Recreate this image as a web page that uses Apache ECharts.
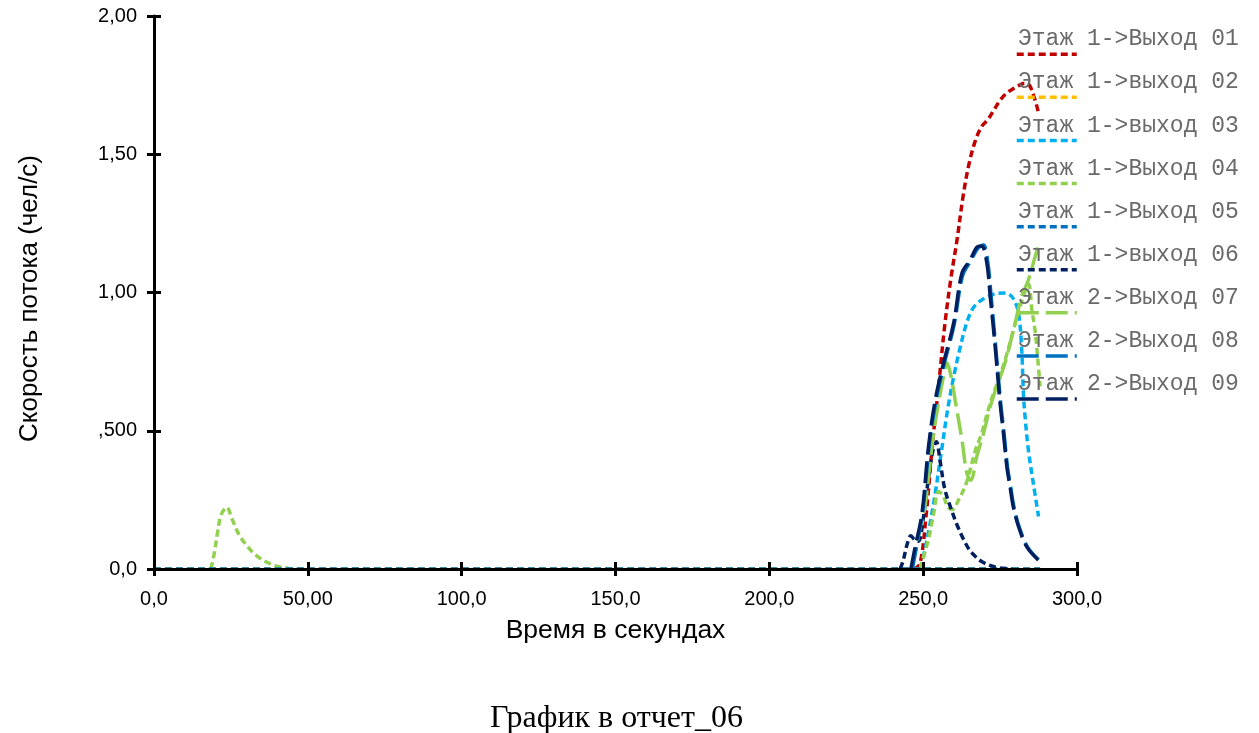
<!DOCTYPE html>
<html>
<head>
<meta charset="utf-8">
<script src="https://cdn.jsdelivr.net/npm/echarts@6/dist/echarts.min.js"></script>
<style>
html,body{margin:0;padding:0;background:#ffffff;}
#chart{width:1259px;height:733px;}
</style>
</head>
<body>
<div id="chart"></div>
<script>
// ---------- data ----------
const seriesNames = [
  'Этаж 1->Выход 01', 'Этаж 1->выход 02', 'Этаж 1->выход 03',
  'Этаж 1->Выход 04', 'Этаж 1->Выход 05', 'Этаж 1->выход 06',
  'Этаж 2->Выход 07', 'Этаж 2->Выход 08', 'Этаж 2->Выход 09'
];
const xTickLabels = ['0,0', '50,00', '100,0', '150,0', '200,0', '250,0', '300,0'];
const yTickLabels = ['0,0', ',500', '1,00', '1,50', '2,00'];

// [time (s), flow rate (people/s)]
const exit01 = [[247,0],[249,0.02],[251,0.2],[253,0.45],[255,0.66],[257,0.88],[259,1.05],[261,1.19],[263,1.35],[265,1.47],[267,1.55],[269,1.6],[271,1.625],[273,1.66],[275,1.695],[277,1.72],[279,1.735],[281,1.748],[283,1.757],[284.5,1.75],[286,1.71],[287.5,1.65]];
const exit02 = [[0,0],[288,0]];
const exit03 = [[249,0],[250,0.04],[252,0.15],[254,0.28],[256,0.43],[258,0.58],[260,0.7],[262,0.8],[264,0.885],[266,0.94],[268,0.965],[270,0.98],[272,0.99],[274,0.997],[276,0.998],[278,0.993],[279.5,0.975],[281,0.925],[282,0.8],[282.6,0.63],[283.2,0.54],[284.2,0.43],[285.8,0.31],[287.5,0.19]];
const exit04 = [[18.5,0],[19.6,0.057],[20.7,0.135],[21.8,0.195],[23.6,0.223],[25.5,0.177],[27.7,0.123],[30.4,0.081],[33.1,0.05],[36.4,0.026],[39.6,0.011],[44,0.002],[46,0],['-','-'],[249,0],[250.5,0.06],[251.7,0.105],[253.4,0.2],[255,0.28],[256.5,0.265],[258,0.225],[259.5,0.215],[261.5,0.25],[264,0.31],[267,0.43],[269,0.49],[271,0.57],[273,0.64],[275,0.7],[277,0.77],[279,0.85],[281,0.93],[283,1.0],[284.3,1.03],[285.3,0.94],[286.4,0.86],[287.4,0.74],[288,0.66]];
const exit05 = [[0,0],[288,0]];
const exit06 = [[242.5,0],[243.5,0.03],[244.8,0.09],[246,0.12],[247.3,0.105],[248.5,0.1],[250,0.18],[251.5,0.31],[253,0.42],[254.3,0.46],[255.5,0.39],[257,0.29],[259,0.22],[261,0.16],[263,0.11],[265,0.07],[267,0.045],[269,0.027],[272,0.012],[275,0.004],[279,0]];
const exit07 = [[246,0],[247.5,0.07],[249,0.15],[250.5,0.22],[252,0.36],[253.5,0.5],[255,0.6],[256.5,0.69],[257.8,0.745],[259,0.7],[260.4,0.61],[262.6,0.467],[264.2,0.346],[265.5,0.32],[267.4,0.406],[269.6,0.49],[271.8,0.587],[273.9,0.66],[276.6,0.745],[279.9,0.89],[282,0.985],[284.2,1.045],[286.4,1.13],[287.4,1.17]];
const exit08 = [[246.5,0],[248,0.09],[250,0.22],[252,0.45],[254.2,0.61],[256.8,0.74],[260,0.88],[262.8,1.06],[265.5,1.115],[267.8,1.16],[269.6,1.172],[271,1.11],[272.1,0.985],[273.6,0.8],[275.2,0.6],[276.3,0.49],[277.4,0.37],[278.4,0.3],[279.5,0.225],[281.2,0.153],[283.9,0.08],[287.5,0.033]];
const exit09 = [[246,0],[247.4,0.08],[249.6,0.2],[251.7,0.44],[253.9,0.61],[256.6,0.744],[259.9,0.889],[262.6,1.07],[265.3,1.118],[267.4,1.163],[269,1.168],[270.7,1.106],[271.8,0.985],[273.4,0.804],[275,0.6],[276.1,0.49],[277.2,0.37],[278.2,0.3],[279.3,0.225],[281,0.153],[283.7,0.08],[287.4,0.033]];

const seriesData = [exit01, exit02, exit03, exit04, exit05, exit06, exit07, exit08, exit09];

// ---------- styles ----------
const seriesColors = ['#c00000', '#ffc000', '#00b0f0', '#92d050', '#0070c0', '#002060', '#92d050', '#0070c0', '#002060'];
const shortDash = [7, 4];
const longDash = [22, 7];
const seriesDash = [shortDash, shortDash, shortDash, shortDash, shortDash, shortDash, longDash, longDash, longDash];

const chart = echarts.init(document.getElementById('chart'), null, {renderer: 'canvas'});

const series = seriesNames.map((name, i) => ({
  name: name,
  type: 'line',
  data: seriesData[i],
  smooth: 0.35,
  symbol: 'none',
  connectNulls: false,
  z: 2,
  lineStyle: {color: seriesColors[i], width: 3.5, type: seriesDash[i]},
  itemStyle: {color: seriesColors[i]}
}));

// legend: text above, line sample below, one pair per series
const legendPitch = 43.1;
const legends = [];
seriesNames.forEach((name, i) => {
  legends.push({
    data: [name], orient: 'vertical', padding: 0,
    left: 1013, top: 27.8 + i * legendPitch,
    itemWidth: 0, itemHeight: 0, textGap: 0, icon: 'rect',
    selectedMode: false,
    textStyle: {fontFamily: 'Liberation Mono, Courier New, monospace', fontSize: 23, lineHeight: 23, color: '#6a6a6a'}
  });
  legends.push({
    data: [name], orient: 'vertical', padding: 0,
    left: 1015, top: 52.5 + i * legendPitch,
    itemWidth: 60, itemHeight: 1, textGap: 0,
    selectedMode: false,
    formatter: function () { return ''; },
    itemStyle: {opacity: 0},
    lineStyle: {width: 3.5},
    textStyle: {fontSize: 1, lineHeight: 1}
  });
});

const axisFont = 'Liberation Sans, Arial, sans-serif';

const option = {
  animation: false,
  backgroundColor: '#ffffff',
  title: {
    text: 'График в отчет_06',
    left: 490,
    top: 703,
    padding: 0,
    textStyle: {fontFamily: 'Liberation Serif, Times New Roman, serif', fontSize: 32, fontWeight: 'normal', color: '#000'}
  },
  grid: {left: 154, right: 182, top: 16, bottom: 164, containLabel: false},
  legend: legends,
  xAxis: [
    {
      type: 'value', min: 0, max: 300, interval: 50, position: 'bottom', z: 3,
      name: 'Время в секундах', nameLocation: 'middle', nameGap: 48,
      nameTextStyle: {fontFamily: axisFont, fontSize: 26.5, color: '#000'},
      axisLine: {show: true, onZero: false, lineStyle: {color: '#000', width: 3}},
      axisTick: {show: true, inside: false, length: 7, lineStyle: {color: '#000', width: 3}},
      axisLabel: {margin: 20, fontFamily: axisFont, fontSize: 20, color: '#000',
        formatter: function (v) { return xTickLabels[Math.round(v / 50)]; }},
      splitLine: {show: false}
    },
    {
      type: 'value', min: 0, max: 300, interval: 50, position: 'bottom', z: 3,
      axisLine: {show: false},
      axisTick: {show: true, inside: true, length: 7, lineStyle: {color: '#000', width: 3}},
      axisLabel: {show: false},
      splitLine: {show: false}
    }
  ],
  yAxis: [
    {
      type: 'value', min: 0, max: 2, interval: 0.5, position: 'left', z: 3,
      name: 'Скорость потока (чел/с)', nameLocation: 'middle', nameGap: 111,
      nameTextStyle: {fontFamily: axisFont, fontSize: 26, color: '#000', padding: [0, 12, 0, 0]},
      axisLine: {show: true, onZero: false, lineStyle: {color: '#000', width: 3}},
      axisTick: {show: true, inside: false, length: 7, lineStyle: {color: '#000', width: 3}},
      axisLabel: {margin: 17, fontFamily: axisFont, fontSize: 20, color: '#000',
        formatter: function (v) { return yTickLabels[Math.round(v / 0.5)]; }},
      splitLine: {show: false}
    },
    {
      type: 'value', min: 0, max: 2, interval: 0.5, position: 'left', z: 3,
      axisLine: {show: false},
      axisTick: {show: true, inside: true, length: 7, lineStyle: {color: '#000', width: 3}},
      axisLabel: {show: false},
      splitLine: {show: false}
    }
  ],
  series: series
};

chart.setOption(option);
</script>
</body>
</html>
